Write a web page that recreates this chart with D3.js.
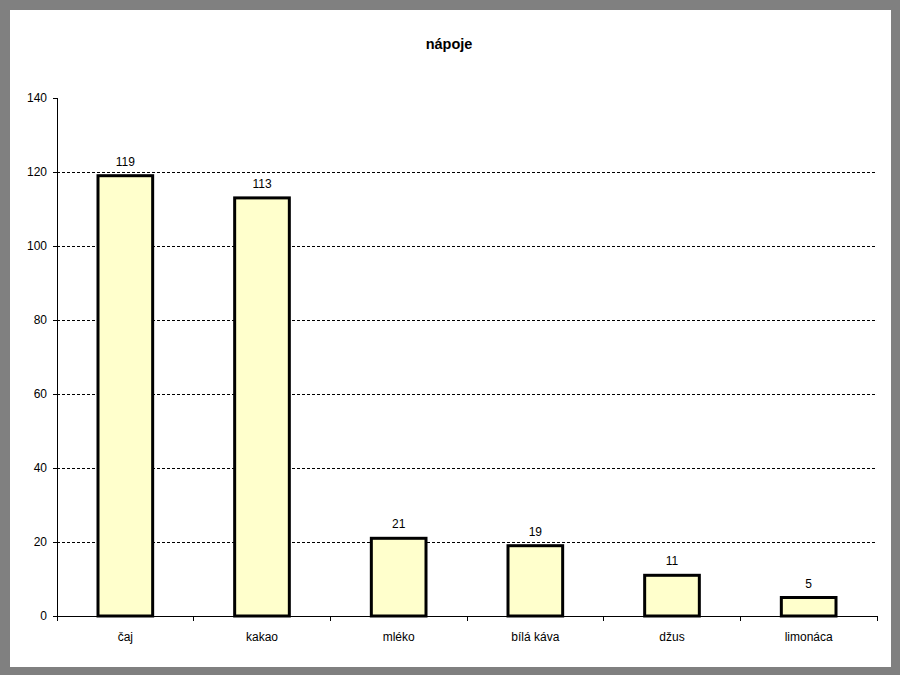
<!DOCTYPE html>
<html><head><meta charset="utf-8">
<script src="https://cdn.jsdelivr.net/npm/d3@7"></script>
<style>body{margin:0;background:#808080;}svg{display:block;font-family:"Liberation Sans",Arial,sans-serif;}</style>
</head><body>
<svg id="c" width="900" height="675"></svg>
<script>
const categories = ["čaj","kakao","mléko","bílá káva","džus","limonáca"];
const values = [119,113,21,19,11,5];
const yTicks = [0,20,40,60,80,100,120,140];
const title = "nápoje";

(function(){
const svg = d3.select("#c");
svg.append("rect").attr("x",0).attr("y",0).attr("width",900).attr("height",675).attr("fill","#808080");
svg.append("rect").attr("x",10).attr("y",10).attr("width",881).attr("height",657).attr("fill","#ffffff");

const pL=57, pR=877, pT=98, pB=616;
const x = d3.scaleBand().domain(categories).range([pL,pR]).paddingInner(0).paddingOuter(0);
const y = d3.scaleLinear().domain([0,140]).range([pB,pT]);

// gridlines
svg.append("g").selectAll("line").data(yTicks.filter(t=>t>0&&t<140)).join("line")
  .attr("x1",pL).attr("x2",pR).attr("y1",d=>Math.round(y(d))+0.5).attr("y2",d=>Math.round(y(d))+0.5)
  .attr("stroke","#000").attr("stroke-width",1).attr("stroke-dasharray","3,2");

// y axis
const ya = svg.append("g").attr("transform",`translate(${pL},0)`)
  .call(d3.axisLeft(y).tickValues(yTicks).tickSize(4).tickPadding(6));
ya.select(".domain").attr("stroke","#000").attr("shape-rendering","crispEdges");
ya.selectAll("line").attr("shape-rendering","crispEdges");
ya.selectAll("text").attr("font-size",12).attr("font-family","Liberation Sans, Arial").attr("fill","#000");

// x axis
const xa = svg.append("g").attr("transform",`translate(0,${pB})`)
  .call(d3.axisBottom(x).tickSize(0).tickPadding(16));
xa.select(".domain").attr("stroke","#000").attr("shape-rendering","crispEdges");
xa.selectAll("text").attr("font-size",12).attr("font-family","Liberation Sans, Arial").attr("fill","#000");
// category boundary ticks
svg.append("g").selectAll("line").data(d3.range(categories.length+1)).join("line")
  .attr("x1",i=>pL+i*x.bandwidth()).attr("x2",i=>pL+i*x.bandwidth())
  .attr("y1",pB).attr("y2",pB+5).attr("stroke","#000").attr("shape-rendering","crispEdges");

// bars
const bw = x.bandwidth()*0.4;
svg.append("g").selectAll("rect").data(values).join("rect")
  .attr("x",(d,i)=>x(categories[i])+x.bandwidth()/2-bw/2)
  .attr("y",d=>y(d)).attr("width",bw).attr("height",d=>pB-y(d))
  .attr("fill","#FFFFCC").attr("stroke","#000").attr("stroke-width",3);

// value labels
svg.append("g").selectAll("text").data(values).join("text")
  .attr("x",(d,i)=>x(categories[i])+x.bandwidth()/2)
  .attr("y",d=>y(d)-10).attr("text-anchor","middle").attr("font-size",12).attr("fill","#000")
  .text(d=>d);

// title
svg.append("text").attr("x",449).attr("y",49).attr("text-anchor","middle")
  .attr("font-size",14.5).attr("font-weight","bold").attr("fill","#000").text(title);
})();
</script>
</body></html>
